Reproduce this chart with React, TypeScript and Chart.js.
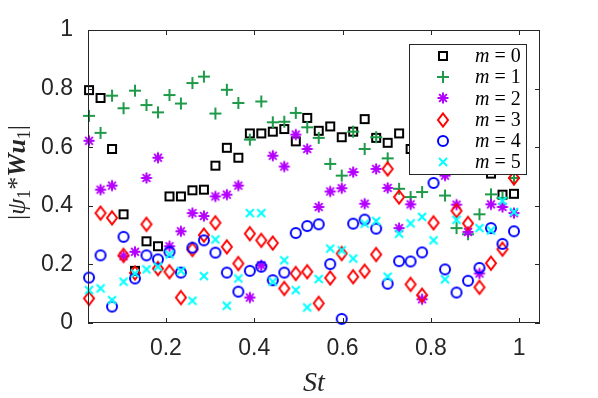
import React, { useEffect, useRef } from 'react';
import { Chart, registerables } from 'chart.js';
Chart.register(...registerables);

// Strouhal numbers (common abscissa of every series)
const st = [0.026, 0.052, 0.078, 0.104, 0.130, 0.156, 0.182, 0.208, 0.234, 0.260,
  0.286, 0.312, 0.338, 0.364, 0.390, 0.416, 0.442, 0.468, 0.494, 0.520,
  0.546, 0.572, 0.598, 0.624, 0.650, 0.676, 0.702, 0.728, 0.754, 0.780,
  0.806, 0.832, 0.858, 0.884, 0.910, 0.936, 0.962, 0.988];

// |psi_1 * W u_1| for each azimuthal mode (null = hidden behind the legend / other markers)
const m0 = [0.795, 0.768, 0.594, 0.371, 0.178, 0.279, 0.262, 0.432, 0.432, 0.453,
  0.455, 0.537, 0.598, 0.564, 0.647, 0.647, 0.653, 0.662, 0.620, 0.700,
  0.656, 0.671, 0.634, 0.653, 0.696, 0.632, 0.615, 0.647, 0.594, null,
  null, null, null, null, null, 0.510, 0.438, 0.441];
const m1 = [0.707, 0.649, 0.776, 0.733, 0.793, 0.744, 0.719, 0.778, 0.749, 0.819,
  0.841, 0.715, 0.796, 0.751, 0.626, 0.756, 0.685, 0.687, 0.717, 0.668,
  0.632, 0.543, 0.503, 0.653, 0.594, 0.634, 0.562, 0.458, 0.430, 0.447,
  null, 0.435, 0.324, 0.303, 0.371, 0.439, 0.427, 0.495];
const m2 = [0.622, 0.455, 0.469, 0.228, 0.243, 0.495, 0.564, 0.262, 0.313, 0.375,
  0.365, 0.432, 0.438, 0.469, 0.087, 0.197, 0.571, 0.534, 0.643, 0.594,
  0.396, 0.449, 0.460, 0.515, 0.407, 0.526, 0.461, 0.324, 0.405, 0.081,
  null, 0.503, 0.404, 0.311, 0.169, 0.405, 0.396, 0.375];
const m3 = [0.084, 0.375, 0.359, 0.231, 0.171, 0.337, 0.186, 0.175, 0.087, 0.251,
  0.300, 0.342, 0.260, 0.203, 0.305, 0.282, 0.273, 0.118, 0.169, 0.175,
  0.067, 0.154, 0.237, 0.158, 0.177, 0.234, 0.526, 0.430, 0.132, 0.095,
  0.342, null, 0.383, 0.340, 0.122, 0.204, 0.252, 0.495];
const m4 = [0.155, 0.231, 0.056, 0.294, 0.152, 0.231, 0.217, 0.243, 0.172, 0.257,
  0.282, 0.240, 0.172, 0.107, 0.178, 0.192, 0.146, 0.172, 0.307, 0.331,
  0.337, 0.201, 0.014, 0.339, 0.353, 0.322, 0.134, 0.211, 0.210, 0.241,
  0.478, 0.183, 0.104, 0.144, 0.188, 0.324, 0.270, 0.313];
const m5 = [0.112, 0.118, 0.078, 0.141, 0.169, 0.183, 0.192, 0.234, 0.178, 0.076,
  0.160, 0.285, 0.059, 0.152, 0.375, 0.375, 0.141, 0.214, 0.112, 0.053,
  0.150, 0.254, 0.248, 0.220, 0.339, 0.348, 0.158, 0.305, 0.340, 0.362,
  0.282, 0.149, 0.352, null, 0.324, 0.316, 0.417, 0.379];

const seriesValues = [m0, m1, m2, m3, m4, m5];
const modeLabels = ['0', '1', '2', '3', '4', '5'];
const seriesColors = ['#000000', '#1f9a48', '#b400ff', '#ff0000', '#0000ff', '#00ffff'];
const seriesMarkers = ['square', 'plus', 'star', 'diamond', 'circle', 'x'];
const xTicks = [0.2, 0.4, 0.6, 0.8, 1];
const yTicks = [0, 0.2, 0.4, 0.6, 0.8, 1];
const xMin = 0.0236, xMax = 1.047;

const AXIS = '#262626';
const SERIF = '"Liberation Serif", "DejaVu Serif", serif';
const SANS = '"Liberation Sans", Arial, sans-serif';

function drawMarker(ctx: CanvasRenderingContext2D, kind: string, x: number, y: number, color: string) {
  ctx.save();
  ctx.strokeStyle = color;
  ctx.lineWidth = 2;
  ctx.beginPath();
  if (kind === 'square') {
    ctx.rect(x - 4, y - 4, 8, 8);
  } else if (kind === 'plus') {
    ctx.moveTo(x - 6, y); ctx.lineTo(x + 6, y);
    ctx.moveTo(x, y - 6); ctx.lineTo(x, y + 6);
  } else if (kind === 'star') {
    for (let k = 0; k < 4; k++) {
      const a = (k * Math.PI) / 4;
      const dx = Math.cos(a) * 5.5, dy = Math.sin(a) * 5.5;
      ctx.moveTo(x - dx, y - dy); ctx.lineTo(x + dx, y + dy);
    }
  } else if (kind === 'diamond') {
    ctx.moveTo(x, y - 6.5); ctx.lineTo(x + 5, y); ctx.lineTo(x, y + 6.5); ctx.lineTo(x - 5, y); ctx.closePath();
  } else if (kind === 'circle') {
    ctx.arc(x, y, 5, 0, Math.PI * 2);
  } else if (kind === 'x') {
    ctx.moveTo(x - 4, y - 4); ctx.lineTo(x + 4, y + 4);
    ctx.moveTo(x + 4, y - 4); ctx.lineTo(x - 4, y + 4);
  }
  ctx.stroke();
  ctx.restore();
}

function makeMarker(kind: string, color: string) {
  const c = document.createElement('canvas');
  c.width = 18; c.height = 18;
  const g = c.getContext('2d')!;
  drawMarker(g, kind, 9, 9, color);
  return c;
}

const decorPlugin = {
  id: 'decor',
  afterDraw(chart: any) {
    const { ctx, chartArea: a, scales } = chart;
    ctx.save();
    // frame
    ctx.strokeStyle = AXIS;
    ctx.lineWidth = 1;
    ctx.strokeRect(a.left + 0.5, a.top + 0.5, a.right - a.left - 1, a.bottom - a.top - 1);
    // inward ticks on all sides
    const tl = 5;
    ctx.beginPath();
    xTicks.forEach((v) => {
      const px = Math.round(scales.x.getPixelForValue(v)) + 0.5;
      ctx.moveTo(px, a.bottom); ctx.lineTo(px, a.bottom - tl);
      ctx.moveTo(px, a.top); ctx.lineTo(px, a.top + tl);
    });
    yTicks.forEach((v) => {
      const py = Math.round(scales.y.getPixelForValue(v)) + 0.5;
      ctx.moveTo(a.left, py); ctx.lineTo(a.left + tl, py);
      ctx.moveTo(a.right, py); ctx.lineTo(a.right - tl, py);
    });
    ctx.stroke();

    // legend
    const lx = a.right - 131, ly = a.top + 14, lw = 117, lh = 130;
    ctx.fillStyle = '#ffffff';
    ctx.fillRect(lx, ly, lw, lh);
    ctx.strokeStyle = AXIS;
    ctx.lineWidth = 1;
    ctx.strokeRect(lx + 0.5, ly + 0.5, lw, lh);
    modeLabels.forEach((lab, k) => {
      const ry = ly + 12 + k * 21.2;
      drawMarker(ctx, seriesMarkers[k], lx + 34, Math.round(ry), seriesColors[k]);
      ctx.fillStyle = '#000000';
      ctx.textBaseline = 'middle';
      ctx.textAlign = 'left';
      let tx = lx + 66;
      ctx.font = `italic 20px ${SERIF}`;
      ctx.fillText('m', tx, ry + 1);
      tx += ctx.measureText('m').width + 5;
      ctx.font = `20px ${SERIF}`;
      ctx.fillText('=', tx, ry + 1);
      tx += ctx.measureText('=').width + 5;
      ctx.fillText(lab, tx, ry + 1);
    });

    // x title
    ctx.fillStyle = AXIS;
    ctx.font = `italic 28px ${SERIF}`;
    ctx.textAlign = 'center';
    ctx.textBaseline = 'alphabetic';
    ctx.fillText('St', (a.left + a.right) / 2, 391);

    // y title  |ψ1*Wu1|
    const parts = [
      { t: '|', f: `26px ${SERIF}`, dy: 0 },
      { t: 'ψ', f: `italic 26px ${SERIF}`, dy: 0 },
      { t: '1', f: `18px ${SERIF}`, dy: 5 },
      { t: '*', f: `26px ${SERIF}`, dy: 0 },
      { t: 'W', f: `italic bold 26px ${SERIF}`, dy: 0 },
      { t: 'u', f: `italic bold 26px ${SERIF}`, dy: 0 },
      { t: '1', f: `18px ${SERIF}`, dy: 5 },
      { t: '|', f: `26px ${SERIF}`, dy: 0 },
    ];
    let total = 0;
    const widths = parts.map((p) => { ctx.font = p.f; const w = ctx.measureText(p.t).width; total += w; return w; });
    ctx.translate(25, (a.top + a.bottom) / 2 - 4);
    ctx.rotate(-Math.PI / 2);
    ctx.textAlign = 'left';
    let x0 = -total / 2;
    parts.forEach((p, i) => {
      ctx.font = p.f;
      ctx.fillText(p.t, x0, p.dy);
      x0 += widths[i];
    });
    ctx.restore();
  },
};

export default function App() {
  const ref = useRef<HTMLCanvasElement | null>(null);
  useEffect(() => {
    if (!ref.current) return;
    const datasets = seriesValues.map((vals, k) => ({
      label: 'm = ' + modeLabels[k],
      data: st.map((s, i) => ({ x: s, y: vals[i] })),
      showLine: false,
      pointStyle: makeMarker(seriesMarkers[k], seriesColors[k]),
      pointRadius: 5,
      pointHoverRadius: 5,
      borderColor: seriesColors[k],
      backgroundColor: 'transparent',
      clip: false as any,
      order: 5 - k,
    }));
    const chart = new Chart(ref.current, {
      type: 'scatter',
      data: { datasets: datasets as any },
      options: {
        animation: false,
        responsive: false,
        events: [],
        layout: { padding: { top: 30, right: 58, left: 0, bottom: 0 } },
        plugins: { legend: { display: false }, tooltip: { enabled: false } },
        scales: {
          x: {
            type: 'linear',
            min: xMin,
            max: xMax,
            grid: { display: false, drawTicks: false },
            border: { display: false },
            afterBuildTicks: (s: any) => { s.ticks = xTicks.map((v) => ({ value: v })); },
            afterFit: (s: any) => { s.height = 75; },
            ticks: {
              autoSkip: false,
              maxRotation: 0,
              padding: 12,
              color: AXIS,
              font: { family: SANS, size: 23 },
              callback: (v: any) => String(v),
            },
          },
          y: {
            type: 'linear',
            min: 0,
            max: 1,
            grid: { display: false, drawTicks: false },
            border: { display: false },
            afterBuildTicks: (s: any) => { s.ticks = yTicks.map((v) => ({ value: v })); },
            afterFit: (s: any) => { s.width = 88; },
            ticks: {
              autoSkip: false,
              padding: 15,
              color: AXIS,
              font: { family: SANS, size: 23 },
              callback: (v: any) => String(v),
            },
          },
        },
      },
      plugins: [decorPlugin],
    });
    return () => chart.destroy();
  }, []);
  return (
    <div style={{ position: 'fixed', left: 0, top: 0, width: 598, height: 398, background: '#fff' }}>
      <canvas ref={ref} width={598} height={398} style={{ display: 'block' }} />
    </div>
  );
}
